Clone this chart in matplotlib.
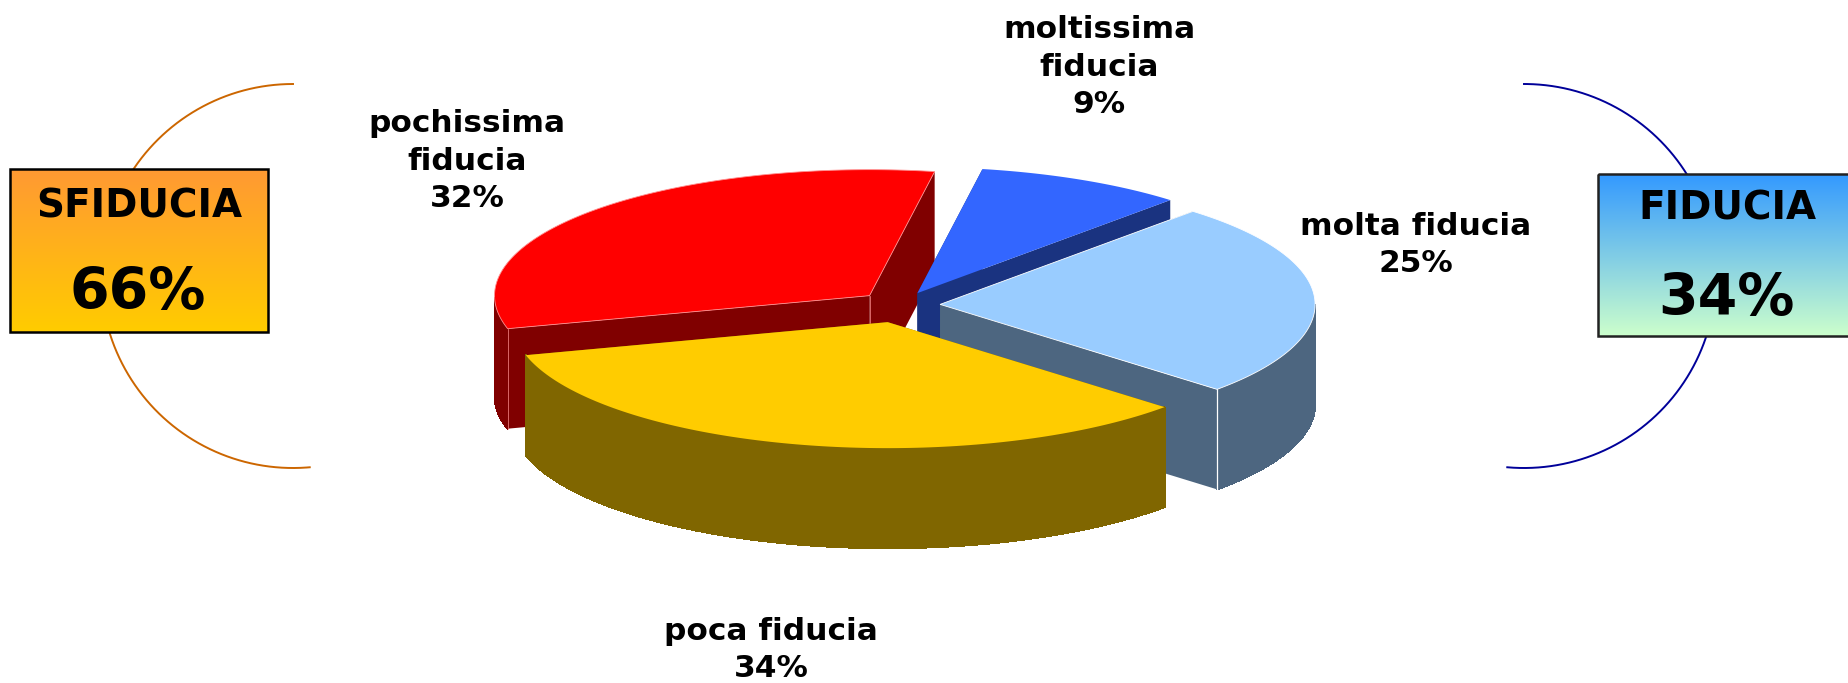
import numpy as np
import matplotlib
matplotlib.use('Agg')
import matplotlib.pyplot as plt
from matplotlib.patches import Polygon, Rectangle
from matplotlib.colors import LinearSegmentedColormap

# Dati
labels = ['moltissima\nfiducia', 'molta fiducia', 'poca fiducia', 'pochissima\nfiducia']
values = [9, 25, 34, 32]
groups = ['SFIDUCIA', 'FIDUCIA']
group_values = [66, 34]

# Stile
top_colors = ['#3366FF', '#99CCFF', '#FFCC00', '#FF0000']
side_colors = ['#1A3380', '#4D6680', '#806600', '#800000']
edge_colors = ['none', 'white', 'none', '#FF9090']
explode = [0.105, 0.107, 0.14, 0.11]
label_pos = [(1099, 67), (1416, 245), (771, 650), (467, 161)]
draw_order = [3, 0, 1, 2]

cx, cy = 900, 305
rx, ry = 375, 126
depth = 100
start_angle = 80

plt.rcParams['font.family'] = 'DejaVu Sans'
fig = plt.figure(figsize=(18.49, 6.83), dpi=100)
ax = fig.add_axes([0, 0, 1, 1])
ax.set_xlim(0, 1849)
ax.set_ylim(683, 0)
ax.axis('off')

# Angoli delle fette, in senso orario
ends = start_angle - np.cumsum(values) * 3.6
starts = np.r_[start_angle, ends[:-1]]

for i in draw_order:
    mid = np.radians((starts[i] + ends[i]) / 2)
    ox = cx + explode[i] * rx * np.cos(mid)
    oy = cy - explode[i] * ry * np.sin(mid)
    t = np.radians(np.linspace(starts[i], ends[i], 120))
    x = ox + rx * np.cos(t)
    y = oy - ry * np.sin(t)

    # bordo esterno, solo la parte davanti
    for j in range(len(x) - 1):
        if np.sin(t[j]) > 0 or np.sin(t[j + 1]) > 0:
            continue
        quad = [(x[j], y[j]), (x[j + 1], y[j + 1]), (x[j + 1], y[j + 1] + depth), (x[j], y[j] + depth)]
        ax.add_patch(Polygon(quad, facecolor=side_colors[i], edgecolor=side_colors[i], linewidth=0.8, antialiased=False))
    # facce del taglio
    for k in [0, -1]:
        quad = [(ox, oy), (x[k], y[k]), (x[k], y[k] + depth), (ox, oy + depth)]
        ax.add_patch(Polygon(quad, facecolor=side_colors[i], edgecolor='none'))
    # spigoli chiari
    if i == 1:
        ax.plot([x[-1], x[-1]], [y[-1], y[-1] + depth], color='white', lw=0.9, zorder=1)
    if i == 3:
        ax.plot([x[0], x[0]], [y[0], y[0] + depth], color=edge_colors[i], lw=0.5, zorder=1)
        ax.plot([ox, ox], [oy, oy + depth], color=edge_colors[i], lw=0.5, zorder=1)
    # faccia superiore
    ax.add_patch(Polygon(np.r_[[(ox, oy)], np.c_[x, y]], facecolor=top_colors[i], edgecolor=edge_colors[i], linewidth=0.6))

for lab, val, (lx, ly) in zip(labels, values, label_pos):
    ax.text(lx, ly, f'{lab}\n{val}%', ha='center', va='center', fontsize=22.5, fontweight='bold', linespacing=1.38)

# Archi laterali
a = np.radians(np.linspace(90, 275, 200))
ax.plot(293 + 192 * np.cos(a), 276 - 192 * np.sin(a), color='#CC6600', lw=1.4, zorder=3)
a = np.radians(np.linspace(-95, 90, 200))
ax.plot(1524 + 192 * np.cos(a), 276 - 192 * np.sin(a), color='#000099', lw=1.4, zorder=3)

# Riquadri con sfumatura
boxes = [
    (10, 169, 258, 163, '#FF9933', '#FFCC00', 'black', 139, 206, 138, 294),
    (1598, 174, 258, 162, '#3399FF', '#CCFFCC', '#222222', 1727, 209, 1726, 299),
]
for (bx, by, bw, bh, c1, c2, ec, tx, ty, vx, vy), name, val in zip(boxes, groups, group_values):
    cmap = LinearSegmentedColormap.from_list('grad', [c1, c2])
    ax.imshow(np.linspace(0, 1, 256)[:, None], cmap=cmap, extent=[bx, bx + bw, by + bh, by], aspect='auto', zorder=4)
    ax.add_patch(Rectangle((bx, by), bw, bh, facecolor='none', edgecolor=ec, linewidth=1.8, zorder=5))
    ax.text(tx, ty, name, ha='center', va='center', fontsize=28, fontweight='bold', zorder=6)
    ax.text(vx, vy, f'{val}%', ha='center', va='center', fontsize=41, fontweight='bold', zorder=6)

ax.set_xlim(0, 1849)
ax.set_ylim(683, 0)
fig.savefig('out.png', dpi=100)
